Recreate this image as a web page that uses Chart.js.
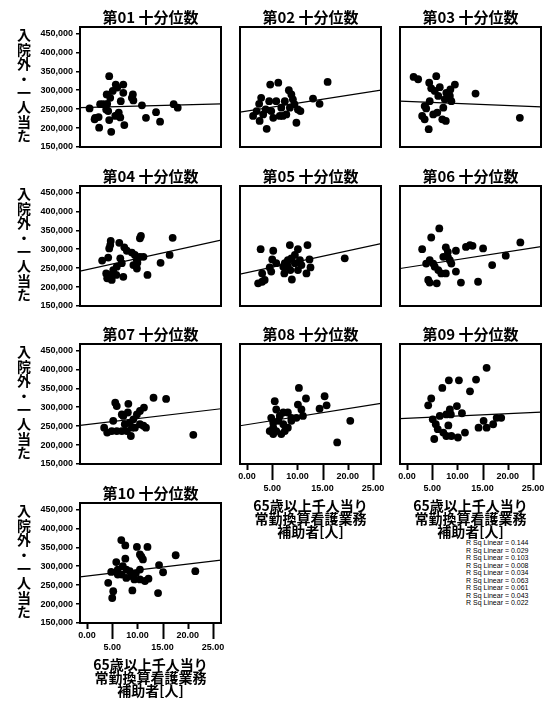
<!DOCTYPE html>
<html>
<head>
<meta charset="utf-8">
<script src="https://cdn.jsdelivr.net/npm/chart.js@4.4.1/dist/chart.umd.min.js"></script>
<style>
  html, body { margin: 0; padding: 0; background: #fff; width: 551px; height: 701px; overflow: hidden; }
  canvas { position: absolute; }
  .ylab { position: absolute; writing-mode: vertical-rl; font: bold 14px "Noto Sans CJK JP", sans-serif; letter-spacing: 0.4px; line-height: 16px; color: #000; }
  #rsq { position: absolute; left: 466px; top: 539px; font: 7px "Liberation Sans", Arial, sans-serif; line-height: 7.5px; color: #000; white-space: pre; }
</style>
</head>
<body>
<div id="rsq"></div>
<script>
// --- data (y in yen, x in persons) ---
const panelTitles = ['第01 十分位数', '第02 十分位数', '第03 十分位数', '第04 十分位数', '第05 十分位数',
  '第06 十分位数', '第07 十分位数', '第08 十分位数', '第09 十分位数', '第10 十分位数'];
const yTitle = '入院外・一人当た';
const xTitleLines = ['65歳以上千人当り', '常勤換算看護業務', '補助者[人]'];
const xTickValues = [0, 5, 10, 15, 20, 25];
const yTickValues = [150000, 200000, 250000, 300000, 350000, 400000, 450000];
const rsqValues = ['0.144', '0.029', '0.103', '0.008', '0.034', '0.063', '0.061', '0.043', '0.022'];

const p01x = [0.5, 1.5, 2.4, 2.3, 2.6, 3.2, 4.0, 4.4, 3.9, 4.6, 5.1, 5.7, 6.0, 7.2, 7.2, 6.7, 4.2, 4.4, 4.8, 6.0, 6.3, 6.6, 7.4, 8.9, 9.1, 9.2, 10.9, 11.7, 13.7, 14.5, 17.2, 18.0, 1.6, 5.6, 3.8];
const p01y = [252000, 223000, 201000, 229000, 263000, 263000, 264000, 337000, 289000, 280000, 298000, 315000, 307000, 315000, 293000, 271000, 245000, 221000, 190000, 234000, 241000, 228000, 208000, 280000, 289000, 273000, 260000, 227000, 242000, 217000, 263000, 254000, 227000, 232000, 249000];
const p02x = [16.0, 4.6, 6.2, 2.8, 2.4, 1.9, 1.2, 2.5, 3.9, 3.7, 4.4, 4.8, 5.8, 6.5, 7.1, 7.8, 7.5, 8.3, 8.8, 9.1, 9.4, 10.1, 9.8, 10.6, 13.1, 14.4, 6.8, 3.2, 5.2, 8.5];
const p02y = [322000, 315000, 320000, 280000, 264000, 245000, 232000, 219000, 198000, 249000, 271000, 245000, 271000, 232000, 232000, 236000, 271000, 300000, 289000, 276000, 263000, 249000, 214000, 245000, 278000, 264000, 254000, 236000, 227000, 254000];
const p03x = [1.3, 2.2, 4.4, 4.8, 5.5, 5.8, 6.5, 7.8, 8.5, 8.6, 9.5, 8.8, 7.5, 6.2, 4.5, 3.5, 3.0, 3.5, 4.3, 5.2, 6.0, 7.0, 7.7, 13.6, 22.4, 3.8, 7.2];
const p03y = [335000, 329000, 320000, 305000, 298000, 337000, 308000, 293000, 285000, 302000, 315000, 271000, 276000, 285000, 271000, 258000, 232000, 223000, 197000, 236000, 241000, 223000, 219000, 291000, 227000, 252000, 254000];
const p04x = [3.0, 4.2, 4.7, 4.6, 6.4, 7.4, 7.9, 8.9, 9.5, 9.9, 10.5, 11.2, 10.5, 10.7, 6.6, 6.9, 5.9, 5.2, 4.6, 3.8, 4.0, 4.9, 5.8, 7.2, 9.2, 9.9, 12.0, 14.6, 16.4, 17.0, 10.0, 4.4];
const p04y = [270000, 278000, 322000, 311000, 317000, 305000, 296000, 291000, 285000, 271000, 280000, 280000, 329000, 335000, 276000, 263000, 254000, 245000, 232000, 236000, 223000, 219000, 232000, 227000, 258000, 249000, 232000, 264000, 285000, 330000, 264000, 302000];
const p05x = [2.7, 5.2, 5.0, 4.5, 4.8, 3.0, 2.2, 3.0, 3.5, 8.5, 10.1, 12.0, 9.5, 8.8, 8.1, 7.5, 7.2, 8.1, 8.6, 10.5, 12.4, 12.6, 11.8, 10.1, 8.9, 7.4, 5.8, 19.4, 9.5, 10.8];
const p05y = [300000, 296000, 273000, 252000, 241000, 236000, 210000, 214000, 219000, 311000, 300000, 311000, 285000, 276000, 271000, 263000, 254000, 254000, 245000, 271000, 273000, 252000, 236000, 245000, 220000, 236000, 263000, 276000, 263000, 258000];
const p06x = [6.4, 4.8, 3.0, 7.7, 8.1, 9.7, 11.7, 12.5, 13.0, 15.1, 22.5, 19.6, 16.9, 3.8, 4.5, 5.2, 5.5, 6.2, 6.8, 7.7, 8.5, 8.8, 9.7, 7.2, 4.2, 4.5, 5.9, 10.7, 14.1, 8.1];
const p06y = [355000, 331000, 300000, 305000, 293000, 296000, 306000, 311000, 309000, 302000, 318000, 283000, 258000, 262000, 271000, 262000, 254000, 245000, 236000, 236000, 271000, 262000, 241000, 280000, 219000, 212000, 210000, 212000, 214000, 280000];
const p07x = [13.2, 15.7, 21.1, 5.6, 8.2, 5.9, 6.9, 5.2, 3.4, 4.0, 4.9, 5.9, 6.9, 7.9, 8.7, 7.5, 8.5, 9.2, 9.9, 10.5, 11.3, 11.2, 10.5, 7.2, 8.1, 8.9, 9.5, 11.7];
const p07y = [325000, 322000, 227000, 312000, 309000, 303000, 281000, 264000, 246000, 233000, 237000, 237000, 237000, 237000, 224000, 255000, 259000, 268000, 281000, 290000, 299000, 251000, 255000, 277000, 286000, 246000, 246000, 246000];
const p08x = [10.3, 11.7, 15.4, 15.8, 14.4, 5.5, 5.8, 7.2, 8.1, 10.1, 10.8, 11.1, 9.8, 8.8, 6.5, 4.8, 5.2, 5.2, 5.8, 5.2, 6.8, 7.5, 8.1, 7.2, 6.2, 8.8, 20.5, 17.9, 4.5];
const p08y = [351000, 323000, 329000, 305000, 296000, 316000, 294000, 286000, 286000, 307000, 294000, 277000, 272000, 272000, 277000, 272000, 259000, 246000, 237000, 229000, 229000, 237000, 246000, 255000, 264000, 264000, 264000, 207000, 237000];
const p09x = [15.8, 13.7, 10.3, 8.3, 7.0, 4.8, 4.2, 12.5, 9.9, 8.5, 8.7, 10.9, 5.1, 5.7, 6.1, 7.2, 8.2, 7.8, 8.8, 10.1, 11.5, 14.2, 15.2, 15.8, 17.1, 17.8, 18.7, 6.5, 7.8, 5.4];
const p09y = [404000, 373000, 371000, 371000, 351000, 323000, 305000, 342000, 303000, 294000, 281000, 284000, 268000, 255000, 242000, 233000, 252000, 224000, 224000, 220000, 233000, 246000, 264000, 246000, 255000, 272000, 272000, 277000, 281000, 216000];
const p10x = [6.8, 7.6, 9.9, 12.0, 10.5, 11.1, 10.8, 7.6, 5.8, 17.6, 14.3, 15.1, 21.5, 14.1, 9.0, 4.2, 5.2, 5.0, 4.8, 6.1, 7.1, 7.8, 8.5, 6.9, 7.8, 8.8, 9.7, 10.5, 10.5, 11.5, 12.2, 6.1, 9.4];
const p10y = [369000, 355000, 351000, 351000, 331000, 318000, 325000, 320000, 311000, 329000, 303000, 284000, 287000, 229000, 236000, 256000, 234000, 216000, 285000, 291000, 300000, 291000, 287000, 278000, 269000, 274000, 282000, 291000, 265000, 261000, 267000, 278000, 265000];

// linear fit line, value at the left and right edge of the x range
const fitStart = [254000, 242000, 271000, 242000, 234000, 249000, 252000, 251000, 270000, 272000];
const fitEnd   = [264000, 300000, 256000, 324000, 315000, 307000, 296000, 310000, 287000, 316000];

const xsAll = [p01x, p02x, p03x, p04x, p05x, p06x, p07x, p08x, p09x, p10x];
const ysAll = [p01y, p02y, p03y, p04y, p05y, p06y, p07y, p08y, p09y, p10y];

// --- layout ---
const X_MIN = -1.4, X_MAX = 26.6, Y_MIN = 150000, Y_MAX = 467000;
const colLeft = [80, 240, 400];
const rowTop = [27, 186, 344, 503];
const BOX_W = 141, BOX_H = 120;
const CJK = '"Noto Sans CJK JP", sans-serif';
Chart.defaults.font.family = '"Liberation Sans", Arial, sans-serif';
Chart.defaults.color = '#000';

const boxPlugin = {
  id: 'box',
  afterDraw(chart, args, opts) {
    const { ctx, chartArea: a } = chart;
    ctx.save();
    ctx.strokeStyle = '#000';
    ctx.lineWidth = 2;
    ctx.strokeRect(a.left, a.top, a.right - a.left, a.bottom - a.top);
    if (opts.xTicks) {
      const sx = chart.scales.x;
      xTickValues.forEach((v, i) => {
        const px = Math.round(sx.getPixelForValue(v)) + 0.5;
        ctx.beginPath();
        ctx.moveTo(px, a.bottom);
        ctx.lineTo(px, a.bottom + (i % 2 ? 16 : 6));
        ctx.stroke();
      });
    }
    ctx.restore();
  }
};

function makePanel(i) {
  const row = i < 9 ? Math.floor(i / 3) : 3;
  const col = i < 9 ? i % 3 : 0;
  const bottom = (i >= 7);
  const padL = col === 0 ? 50 : 10, padR = 20, padT = 27, padB = bottom ? 76 : 10;
  const w = padL + BOX_W + padR, h = padT + BOX_H + padB;
  const c = document.createElement('canvas');
  c.width = w; c.height = h;
  c.style.left = (colLeft[col] - padL) + 'px';
  c.style.top = (rowTop[row] - padT) + 'px';
  document.body.appendChild(c);

  const pts = xsAll[i].map((x, k) => ({ x, y: ysAll[i][k] }));

  new Chart(c, {
    type: 'scatter',
    data: {
      datasets: [
        { data: pts, pointRadius: 3.9, pointBackgroundColor: '#000', pointBorderWidth: 0 },
        { type: 'line', data: [{ x: X_MIN, y: fitStart[i] }, { x: X_MAX, y: fitEnd[i] }],
          borderColor: '#000', borderWidth: 1.2, pointRadius: 0, fill: false }
      ]
    },
    options: {
      responsive: false,
      animation: false,
      events: [],
      layout: { padding: { left: 0, right: padR, top: 0, bottom: 0 } },
      plugins: {
        legend: { display: false },
        tooltip: { enabled: false },
        title: {
          display: true, text: panelTitles[i], fullSize: false, color: '#000',
          font: { family: CJK, size: 15, weight: 'bold', lineHeight: 1.2 },
          padding: { top: 8, bottom: 1 }
        },
        box: { xTicks: bottom }
      },
      scales: {
        x: {
          type: 'linear', min: X_MIN, max: X_MAX,
          grid: { display: false, drawTicks: false, tickLength: 0 },
          border: { display: false },
          ticks: {
            display: bottom, autoSkip: false, maxRotation: 0, padding: 7,
            font: { size: 9, weight: 'bold', lineHeight: 1.333 },
            callback: (v, k) => k % 2 ? ['', v.toFixed(2)] : v.toFixed(2)
          },
          title: {
            display: bottom, text: xTitleLines, color: '#000',
            font: { family: CJK, size: 14, weight: 'bold', lineHeight: 13 / 14 },
            padding: { top: 0, bottom: 1.5 }
          },
          afterBuildTicks: s => { s.ticks = xTickValues.map(v => ({ value: v })); },
          afterFit: s => { s.height = padB; }
        },
        y: {
          type: 'linear', min: Y_MIN, max: Y_MAX,
          grid: { display: col === 0, drawOnChartArea: false, drawTicks: true, tickLength: 4, color: '#000', lineWidth: 1.5 },
          border: { display: false },
          ticks: {
            display: col === 0, padding: 3,
            font: { size: 9, weight: 'bold' },
            callback: v => v.toLocaleString('en-US')
          },
          afterBuildTicks: s => { s.ticks = yTickValues.map(v => ({ value: v })); },
          afterFit: s => { s.width = padL; }
        }
      }
    },
    plugins: [boxPlugin]
  });
}

for (let i = 0; i < 10; i++) makePanel(i);

// vertical y-axis titles on the left column
rowTop.forEach(t => {
  const d = document.createElement('div');
  d.className = 'ylab';
  d.textContent = yTitle;
  d.style.left = '16px';
  d.style.top = (t + 1) + 'px';
  document.body.appendChild(d);
});

// R squared notes
document.getElementById('rsq').textContent = rsqValues.map(v => 'R Sq Linear = ' + v).join('\n');
</script>
</body>
</html>
